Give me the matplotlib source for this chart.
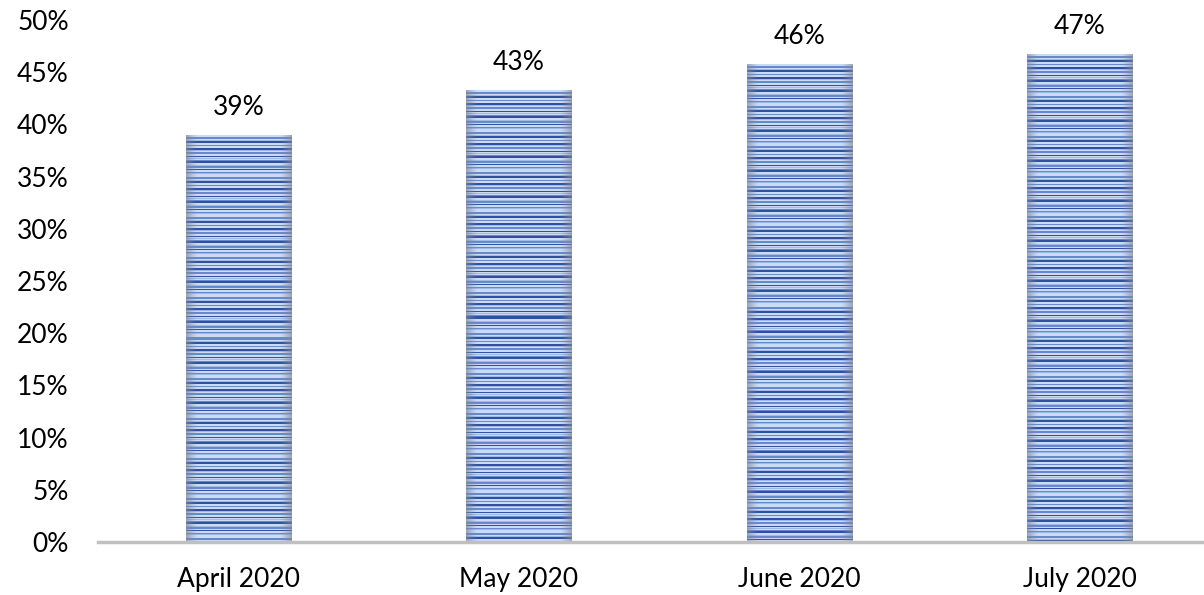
import numpy as np
import matplotlib
matplotlib.use("Agg")
import matplotlib.pyplot as plt

months = ["April 2020", "May 2020", "June 2020", "July 2020"]
values = [38.9, 43.2, 45.7, 46.7]
labels = ["39%", "43%", "46%", "47%"]

plt.rcParams["font.family"] = ["Lato", "DejaVu Sans"]

fig = plt.figure(figsize=(12.04, 5.95), dpi=100)
ax = fig.add_axes([98 / 1204, 53 / 595, 1122 / 1204, 522 / 595])

bar_w = 0.375

# striped texture for the bars (decorative, not data)
light = np.array([0.80, 0.86, 0.96])
pale = np.array([0.62, 0.73, 0.91])
mid = np.array([0.40, 0.54, 0.81])
dark = np.array([0.19, 0.32, 0.63])
pattern = [light, light, mid, mid, light, pale, dark, dark, light, light,
           mid, light, light, dark, dark, pale, light, mid, mid, light,
           light, dark, light, pale, light, mid, dark, dark, light, light,
           pale, mid, mid, light, dark, light, light, mid, pale, light]


def texture(nrows, ncols=105):
    rows = np.array([pattern[i % len(pattern)] for i in range(nrows)])
    img = np.repeat(rows[:, None, :], ncols, axis=1)
    x = np.linspace(-1, 1, ncols)
    edge = np.clip((np.abs(x) - 0.78) / 0.22, 0, 1) ** 1.2
    gray = np.array([0.50, 0.53, 0.62])
    img = img * (1 - edge[None, :, None] * 0.65) + gray * edge[None, :, None] * 0.65
    return np.clip(img, 0, 1)


px_per_unit = 522 / 50
for i, v in enumerate(values):
    n = int(round(v * px_per_unit))
    ax.imshow(texture(n), extent=(i - bar_w / 2, i + bar_w / 2, 0, v),
              aspect="auto", origin="upper", interpolation="nearest", zorder=2)
    ax.text(i, v + 1.5, labels[i], ha="center", va="bottom", fontsize=19, color="black")

ax.set_xlim(-0.5, 3.5)
ax.set_ylim(0, 50)
ax.set_xticks(range(len(months)))
ax.set_xticklabels(months, fontsize=19)
ax.set_yticks(np.arange(0, 51, 5))
ax.set_yticklabels([f"{t}%" for t in range(0, 51, 5)], fontsize=19)
ax.tick_params(axis="both", length=0)
ax.tick_params(axis="x", pad=18)
ax.tick_params(axis="y", pad=21)

for s in ["top", "right", "left"]:
    ax.spines[s].set_visible(False)
ax.spines["bottom"].set_color("#c0c0c0")
ax.spines["bottom"].set_linewidth(2.5)
ax.spines["bottom"].set_zorder(3)

fig.savefig("out.png", dpi=100)
